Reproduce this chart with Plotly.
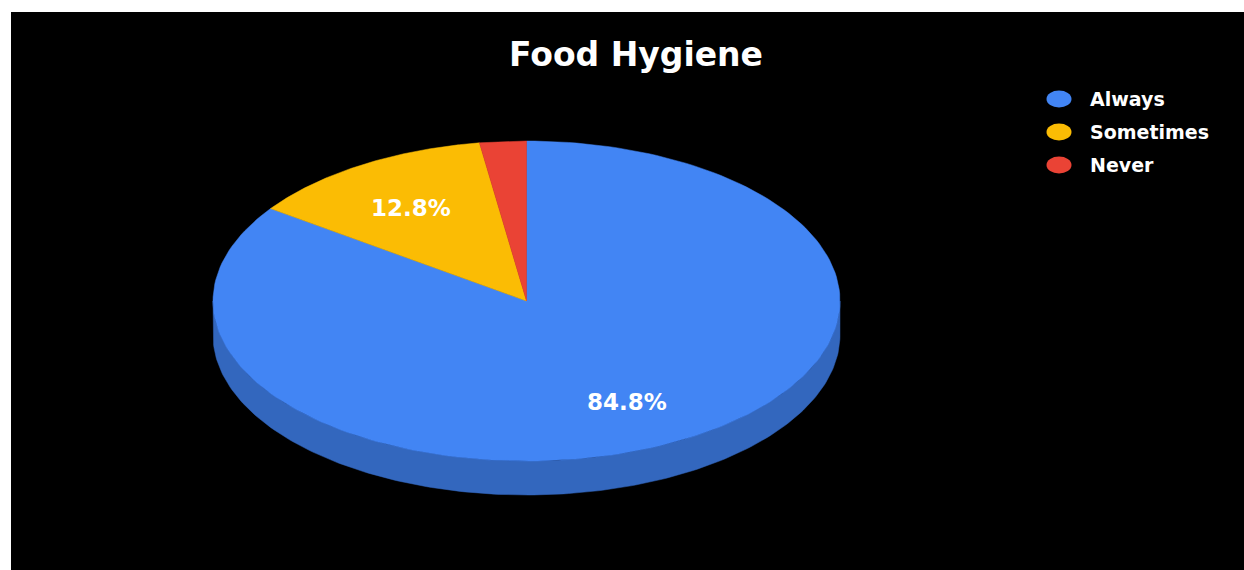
import numpy as np
import plotly.graph_objects as go

# Survey answers and their shares (percent)
categories = ["Always", "Sometimes", "Never"]
shares = [84.8, 12.8, 2.4]
colors = ["#4285f4", "#fbbc04", "#ea4335"]
title_text = "Food Hygiene"

# Geometry of the tilted pie (screen pixels, y grows downward)
CX, CY = 526.5, 301.0
RX, RY = 313.5, 160.0
DEPTH = 34.0
LABEL_FRAC = 0.70
W, H = 1244, 570
LEFT, TOP = 11, 12


def darken(hex_color, k=0.78):
    h = hex_color.lstrip("#")
    r, g, b = (int(h[i:i + 2], 16) for i in (0, 2, 4))
    return "#%02x%02x%02x" % (int(r * k), int(g * k), int(b * k))


def rim(a0, a1, dy=0.0, n=200):
    """Points on the ellipse rim, angles clockwise from 12 o'clock (degrees)."""
    t = np.radians(np.linspace(a0, a1, n))
    return CX + RX * np.sin(t), CY - RY * np.cos(t) + dy


fig = go.Figure()

total = float(sum(shares))
bounds = np.concatenate([[0.0], np.cumsum(shares) / total * 360.0])

# Visible side walls (front half of the disc, 90..270 degrees)
for i, col in enumerate(colors):
    a0, a1 = max(bounds[i], 90.0), min(bounds[i + 1], 270.0)
    if a1 <= a0:
        continue
    xt, yt = rim(a0, a1)
    xb, yb = rim(a1, a0, DEPTH)
    side = darken(col)
    fig.add_trace(go.Scatter(
        x=np.concatenate([xt, xb, xt[:1]]), y=np.concatenate([yt, yb, yt[:1]]),
        fill="toself", mode="lines", line=dict(color=side, width=0.5),
        fillcolor=side, hoverinfo="skip", showlegend=False))

# Top faces of the slices
for i, (cat, col) in enumerate(zip(categories, colors)):
    xs, ys = rim(bounds[i], bounds[i + 1])
    fig.add_trace(go.Scatter(
        x=np.concatenate([[CX], xs, [CX]]), y=np.concatenate([[CY], ys, [CY]]),
        fill="toself", mode="lines", line=dict(color=col, width=0.5),
        fillcolor=col, name=cat, hoverinfo="name", showlegend=False))

# Percentage labels inside the larger slices
for i, v in enumerate(shares):
    if v / total * 100 < 5:
        continue
    mid = np.radians((bounds[i] + bounds[i + 1]) / 2)
    fig.add_annotation(
        x=CX + RX * LABEL_FRAC * np.sin(mid), y=CY - RY * LABEL_FRAC * np.cos(mid),
        text=f"{v:.1f}%", xref="x", yref="y", showarrow=False, yshift=-2,
        font=dict(family="DejaVu Sans", size=23, color="white", weight="bold"))

# Legend: oval swatches with bold labels
LEG_X, LEG_Y0, LEG_DY = 1059, 99, 33
for i, (cat, col) in enumerate(zip(categories, colors)):
    y = LEG_Y0 + i * LEG_DY
    fig.add_shape(type="circle", xref="x", yref="y",
                  x0=LEG_X - 12.5, x1=LEG_X + 12.5, y0=y - 8.5, y1=y + 8.5,
                  fillcolor=col, line=dict(width=0))
    fig.add_annotation(x=LEG_X + 29, y=y, text=cat, xref="x", yref="y",
                       xanchor="left", yanchor="middle", showarrow=False,
                       font=dict(family="DejaVu Sans", size=19, color="white",
                                 weight="bold"))

fig.add_annotation(x=636, y=54, text=title_text, xref="x", yref="y",
                   xanchor="center", yanchor="middle", showarrow=False,
                   font=dict(family="DejaVu Sans", size=33, color="white",
                             weight="bold"))

# White frame strips along the top and left edges
fig.add_shape(type="rect", xref="paper", yref="paper", x0=-0.02, x1=1.01,
              y0=1, y1=1.05, fillcolor="white", line=dict(width=0), layer="below")
fig.add_shape(type="rect", xref="paper", yref="paper", x0=-0.02, x1=0,
              y0=-0.01, y1=1.05, fillcolor="white", line=dict(width=0), layer="below")

fig.update_layout(
    width=W, height=H,
    margin=dict(l=LEFT, r=0, t=TOP, b=0),
    paper_bgcolor="black", plot_bgcolor="black",
    xaxis=dict(range=[LEFT, W], visible=False, fixedrange=True),
    yaxis=dict(range=[H, TOP], visible=False, fixedrange=True),
    showlegend=False,
)

fig.write_html(
    "out.html",
    post_script="document.body.style.background='black';"
                "document.body.style.margin='0';",
)
